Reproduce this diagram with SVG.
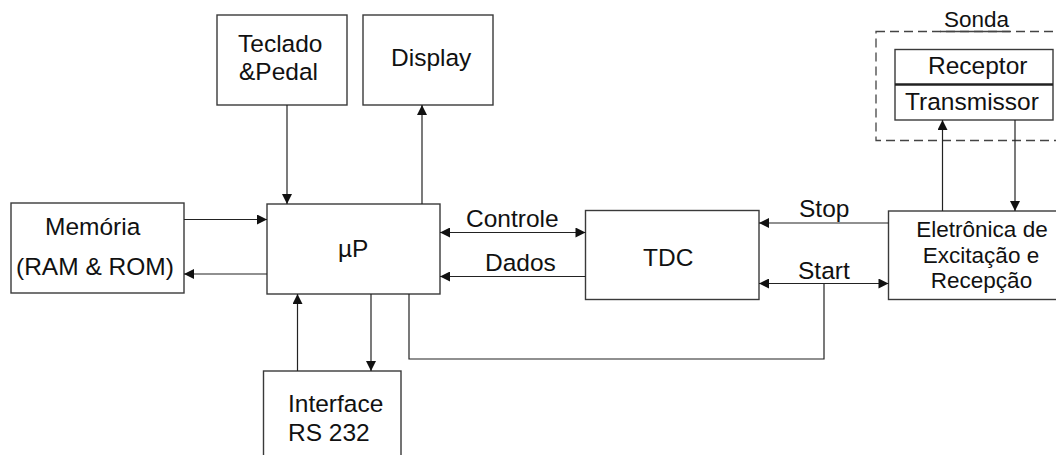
<svg xmlns="http://www.w3.org/2000/svg" width="1056" height="455" viewBox="0 0 1056 455">
  <defs>
    <marker id="arrow" viewBox="0 0 10 10" refX="10" refY="5" markerWidth="10.5" markerHeight="10" markerUnits="userSpaceOnUse" orient="auto-start-reverse">
      <path d="M0,0 L10,5 L0,10 z" fill="#111"/>
    </marker>
    <style>
      .box { fill: #fff; stroke: #3a3a3a; stroke-width: 1.4; }
      .lbl { font-family: "Liberation Sans", Arial, sans-serif; font-size: 24.5px; fill: #111; }
      .sm { font-size: 22.5px; }
      .wire { fill: none; stroke: #222; stroke-width: 1.2; }
      .arr { marker-end: url(#arrow); }
      .both { marker-start: url(#arrow); marker-end: url(#arrow); }
      .dash { fill: none; stroke: #444; stroke-width: 1.3; stroke-dasharray: 9 5; }
    </style>
  </defs>
  <rect width="1056" height="455" fill="#fff"/>

  <!-- probe enclosure -->
  <g id="sonda">
    <rect class="dash" x="876" y="31.5" width="200" height="109"/>
    <line x1="940" y1="31.5" x2="1010" y2="31.5" stroke="#444" stroke-width="1.3"/>
    <text class="lbl sm" x="944" y="27">Sonda</text>
  </g>

  <g id="teclado">
    <rect class="box" x="217" y="15" width="130" height="90"/>
    <text class="lbl" x="238" y="52">Teclado</text>
    <text class="lbl" x="239" y="80">&amp;Pedal</text>
  </g>

  <g id="display">
    <rect class="box" x="363" y="15" width="130" height="90"/>
    <text class="lbl" x="391" y="66">Display</text>
  </g>

  <g id="memoria">
    <rect class="box" x="11" y="203" width="173" height="90"/>
    <text class="lbl" x="45" y="235">Memória</text>
    <text class="lbl" x="16" y="275">(RAM &amp; ROM)</text>
  </g>

  <g id="up">
    <rect class="box" x="267" y="204" width="173" height="90"/>
    <text class="lbl" x="338" y="257">µP</text>
  </g>

  <g id="interface">
    <rect class="box" x="263.5" y="371" width="137.5" height="95"/>
    <text class="lbl" x="288" y="411.5">Interface</text>
    <text class="lbl" x="288" y="440.5">RS 232</text>
  </g>

  <g id="tdc">
    <rect class="box" x="585.5" y="210.5" width="173.5" height="89"/>
    <text class="lbl" x="643" y="265.5">TDC</text>
  </g>

  <g id="eletronica">
    <rect class="box" x="888.5" y="211" width="180" height="88.5"/>
    <text class="lbl sm" x="982" y="236.5" text-anchor="middle">Eletrônica de</text>
    <text class="lbl sm" x="981" y="262.5" text-anchor="middle">Excitação e</text>
    <text class="lbl sm" x="981.5" y="288" text-anchor="middle">Recepção</text>
  </g>

  <g id="transdutor">
    <rect class="box" x="895" y="49.5" width="158" height="70.5"/>
    <line x1="895" y1="84.5" x2="1053" y2="84.5" stroke="#222" stroke-width="2.4"/>
    <text class="lbl" x="928" y="73.5">Receptor</text>
    <text class="lbl" x="905" y="110">Transmissor</text>
  </g>

  <!-- connectors -->
  <g id="connectors">
    <path class="wire arr" d="M287,105 V204"/>
    <path class="wire arr" d="M422,204 V105"/>
    <path class="wire arr" d="M184,219.5 H267"/>
    <path class="wire arr" d="M267,274 H184"/>
    <path class="wire arr" d="M297.5,371 V294"/>
    <path class="wire arr" d="M371,294 V371"/>
    <path class="wire" d="M409,294 V359 H824 V283.5"/>
    <path class="wire both" d="M440,232.5 H585.5"/>
    <path class="wire arr" d="M585.5,276.5 H440"/>
    <path class="wire arr" d="M888.5,223 H759"/>
    <path class="wire both" d="M759,283.5 H888.5"/>
    <path class="wire arr" d="M942.5,211 V120"/>
    <path class="wire arr" d="M1015,120 V211"/>
    <text class="lbl" x="466" y="226.5">Controle</text>
    <text class="lbl" x="485" y="271">Dados</text>
    <text class="lbl" x="799" y="216.5">Stop</text>
    <text class="lbl" x="798" y="278.5">Start</text>
  </g>
</svg>
